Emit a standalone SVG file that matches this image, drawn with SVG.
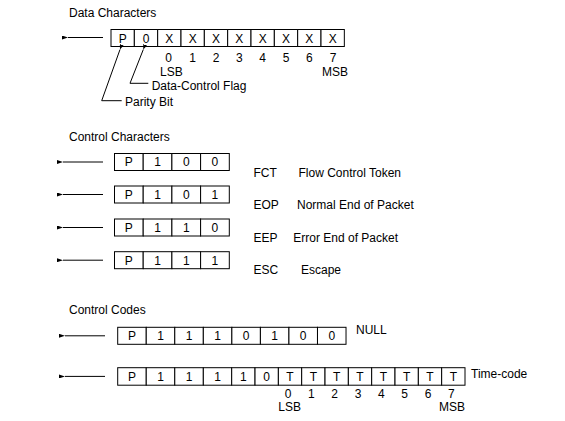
<svg xmlns="http://www.w3.org/2000/svg" width="565" height="421" viewBox="0 0 565 421">
<defs>
<style>
.c{fill:#fff;stroke:#000;stroke-width:1}
.t{font-family:"Liberation Sans",Arial,sans-serif;font-size:12px;fill:#000;text-anchor:middle}
.l{font-family:"Liberation Sans",Arial,sans-serif;font-size:12px;fill:#000}
.a{stroke:#000;stroke-width:1;fill:none}
</style>
<marker id="ah" viewBox="0 0 6 4" refX="0" refY="2" markerWidth="6" markerHeight="4" markerUnits="userSpaceOnUse" orient="auto-start-reverse">
<path d="M6,0 L0,2 L6,4 Z" fill="#000"/>
</marker>
<marker id="tip" viewBox="0 0 5 4" refX="0" refY="2" markerWidth="5" markerHeight="4" markerUnits="userSpaceOnUse" orient="auto">
<path d="M5,0 L0,2 L5,4 Z" fill="#000"/>
</marker>
</defs>
<rect width="565" height="421" fill="#fff"/>

<text class="l" x="69" y="16.5">Data Characters</text>
<text class="l" x="69" y="140.5">Control Characters</text>
<text class="l" x="69" y="314">Control Codes</text>

<g id="data-char">
<rect class="c" x="111" y="29.5" width="23.33" height="17"/>
<rect class="c" x="134.33" y="29.5" width="23.33" height="17"/>
<rect class="c" x="157.67" y="29.5" width="23.33" height="17"/>
<rect class="c" x="181" y="29.5" width="23.33" height="17"/>
<rect class="c" x="204.33" y="29.5" width="23.33" height="17"/>
<rect class="c" x="227.67" y="29.5" width="23.33" height="17"/>
<rect class="c" x="251" y="29.5" width="23.33" height="17"/>
<rect class="c" x="274.33" y="29.5" width="23.33" height="17"/>
<rect class="c" x="297.67" y="29.5" width="23.33" height="17"/>
<rect class="c" x="321" y="29.5" width="23.33" height="17"/>
<text class="t" x="122.67" y="42.5">P</text>
<text class="t" x="146" y="42.5">0</text>
<text class="t" x="169.33" y="42.5">X</text>
<text class="t" x="192.67" y="42.5">X</text>
<text class="t" x="216" y="42.5">X</text>
<text class="t" x="239.33" y="42.5">X</text>
<text class="t" x="262.67" y="42.5">X</text>
<text class="t" x="286" y="42.5">X</text>
<text class="t" x="309.33" y="42.5">X</text>
<text class="t" x="332.67" y="42.5">X</text>
<text class="t" x="168.5" y="61.5">0</text>
<text class="t" x="192.67" y="61.5">1</text>
<text class="t" x="216" y="61.5">2</text>
<text class="t" x="239.33" y="61.5">3</text>
<text class="t" x="262.67" y="61.5">4</text>
<text class="t" x="286" y="61.5">5</text>
<text class="t" x="309.33" y="61.5">6</text>
<text class="t" x="333" y="61.5">7</text>
<text class="l" x="160" y="75.5">LSB</text>
<text class="l" x="322" y="75.5">MSB</text>
</g>

<g id="fct">
<rect class="c" x="114.5" y="153.5" width="28.7" height="17"/>
<rect class="c" x="143.2" y="153.5" width="28.7" height="17"/>
<rect class="c" x="171.9" y="153.5" width="28.7" height="17"/>
<rect class="c" x="200.6" y="153.5" width="28.7" height="17"/>
<text class="t" x="128.85" y="166.3">P</text>
<text class="t" x="157.55" y="166.3">1</text>
<text class="t" x="186.25" y="166.3">0</text>
<text class="t" x="214.95" y="166.3">0</text>
<text class="l" x="253.5" y="176.5">FCT</text>
<text class="l" x="298.5" y="176.5">Flow Control Token</text>
</g>

<g id="eop">
<rect class="c" x="114.5" y="186" width="28.7" height="17"/>
<rect class="c" x="143.2" y="186" width="28.7" height="17"/>
<rect class="c" x="171.9" y="186" width="28.7" height="17"/>
<rect class="c" x="200.6" y="186" width="28.7" height="17"/>
<text class="t" x="128.85" y="198.8">P</text>
<text class="t" x="157.55" y="198.8">1</text>
<text class="t" x="186.25" y="198.8">0</text>
<text class="t" x="214.95" y="198.8">1</text>
<text class="l" x="253.5" y="208.5">EOP</text>
<text class="l" x="297" y="208.5">Normal End of Packet</text>
</g>

<g id="eep">
<rect class="c" x="114.5" y="219" width="28.7" height="17"/>
<rect class="c" x="143.2" y="219" width="28.7" height="17"/>
<rect class="c" x="171.9" y="219" width="28.7" height="17"/>
<rect class="c" x="200.6" y="219" width="28.7" height="17"/>
<text class="t" x="128.85" y="231.8">P</text>
<text class="t" x="157.55" y="231.8">1</text>
<text class="t" x="186.25" y="231.8">1</text>
<text class="t" x="214.95" y="231.8">0</text>
<text class="l" x="253.5" y="241.5">EEP</text>
<text class="l" x="293.3" y="241.5">Error End of Packet</text>
</g>

<g id="esc">
<rect class="c" x="114.5" y="251.7" width="28.7" height="17"/>
<rect class="c" x="143.2" y="251.7" width="28.7" height="17"/>
<rect class="c" x="171.9" y="251.7" width="28.7" height="17"/>
<rect class="c" x="200.6" y="251.7" width="28.7" height="17"/>
<text class="t" x="128.85" y="264.5">P</text>
<text class="t" x="157.55" y="264.5">1</text>
<text class="t" x="186.25" y="264.5">1</text>
<text class="t" x="214.95" y="264.5">1</text>
<text class="l" x="253.5" y="273.5">ESC</text>
<text class="l" x="301" y="273.5">Escape</text>
</g>

<g id="null">
<rect class="c" x="117.7" y="327.3" width="28.54" height="17"/>
<rect class="c" x="146.24" y="327.3" width="28.54" height="17"/>
<rect class="c" x="174.78" y="327.3" width="28.54" height="17"/>
<rect class="c" x="203.32" y="327.3" width="28.54" height="17"/>
<rect class="c" x="231.86" y="327.3" width="28.54" height="17"/>
<rect class="c" x="260.4" y="327.3" width="28.54" height="17"/>
<rect class="c" x="288.94" y="327.3" width="28.54" height="17"/>
<rect class="c" x="317.48" y="327.3" width="28.54" height="17"/>
<text class="t" x="131.97" y="340.1">P</text>
<text class="t" x="160.51" y="340.1">1</text>
<text class="t" x="189.05" y="340.1">1</text>
<text class="t" x="217.59" y="340.1">1</text>
<text class="t" x="246.13" y="340.1">0</text>
<text class="t" x="274.67" y="340.1">1</text>
<text class="t" x="303.21" y="340.1">0</text>
<text class="t" x="331.75" y="340.1">0</text>
<text class="l" x="356" y="333.5">NULL</text>
</g>

<g id="time-code">
<rect class="c" x="117.7" y="367.7" width="28.54" height="17.5"/>
<rect class="c" x="146.24" y="367.7" width="28.54" height="17.5"/>
<rect class="c" x="174.78" y="367.7" width="28.54" height="17.5"/>
<rect class="c" x="203.32" y="367.7" width="28.38" height="17.5"/>
<rect class="c" x="231.7" y="367.7" width="23.33" height="17.5"/>
<rect class="c" x="255.03" y="367.7" width="23.33" height="17.5"/>
<rect class="c" x="278.36" y="367.7" width="23.33" height="17.5"/>
<rect class="c" x="301.69" y="367.7" width="23.33" height="17.5"/>
<rect class="c" x="325.02" y="367.7" width="23.33" height="17.5"/>
<rect class="c" x="348.35" y="367.7" width="23.33" height="17.5"/>
<rect class="c" x="371.68" y="367.7" width="23.33" height="17.5"/>
<rect class="c" x="395.01" y="367.7" width="23.33" height="17.5"/>
<rect class="c" x="418.34" y="367.7" width="23.33" height="17.5"/>
<rect class="c" x="441.67" y="367.7" width="23.33" height="17.5"/>
<text class="t" x="131.97" y="380.7">P</text>
<text class="t" x="160.51" y="380.7">1</text>
<text class="t" x="189.05" y="380.7">1</text>
<text class="t" x="217.59" y="380.7">1</text>
<text class="t" x="243.37" y="380.7">1</text>
<text class="t" x="266.7" y="380.7">0</text>
<text class="t" x="290.03" y="380.7">T</text>
<text class="t" x="313.36" y="380.7">T</text>
<text class="t" x="336.69" y="380.7">T</text>
<text class="t" x="360.02" y="380.7">T</text>
<text class="t" x="383.35" y="380.7">T</text>
<text class="t" x="406.68" y="380.7">T</text>
<text class="t" x="430.01" y="380.7">T</text>
<text class="t" x="453.34" y="380.7">T</text>
<text class="t" x="288" y="397.5">0</text>
<text class="t" x="311.4" y="397.5">1</text>
<text class="t" x="334.7" y="397.5">2</text>
<text class="t" x="358" y="397.5">3</text>
<text class="t" x="381.3" y="397.5">4</text>
<text class="t" x="404.7" y="397.5">5</text>
<text class="t" x="428" y="397.5">6</text>
<text class="t" x="451.3" y="397.5">7</text>
<text class="l" x="278.3" y="411">LSB</text>
<text class="l" x="439" y="411">MSB</text>
<text class="l" x="471" y="378.3">Time-code</text>
</g>

<g id="annotations">
<text class="l" x="151.7" y="90">Data-Control Flag</text>
<text class="l" x="125" y="106">Parity  Bit</text>
</g>

<g id="connectors">
<line class="a" x1="68" y1="37.5" x2="103" y2="37.5" marker-start="url(#ah)"/>
<line class="a" x1="63" y1="162" x2="103" y2="162" marker-start="url(#ah)"/>
<line class="a" x1="63" y1="194.5" x2="103" y2="194.5" marker-start="url(#ah)"/>
<line class="a" x1="63" y1="227.5" x2="103" y2="227.5" marker-start="url(#ah)"/>
<line class="a" x1="63" y1="260.2" x2="103" y2="260.2" marker-start="url(#ah)"/>
<line class="a" x1="65" y1="335.8" x2="105" y2="335.8" marker-start="url(#ah)"/>
<line class="a" x1="65" y1="376.4" x2="105" y2="376.4" marker-start="url(#ah)"/>
<polyline class="a" points="121.7,100.7 101.7,100.7 120,49.5" marker-end="url(#tip)"/>
<polyline class="a" points="148.3,83.3 130,83.3 143.3,49.5" marker-end="url(#tip)"/>
</g>
</svg>
